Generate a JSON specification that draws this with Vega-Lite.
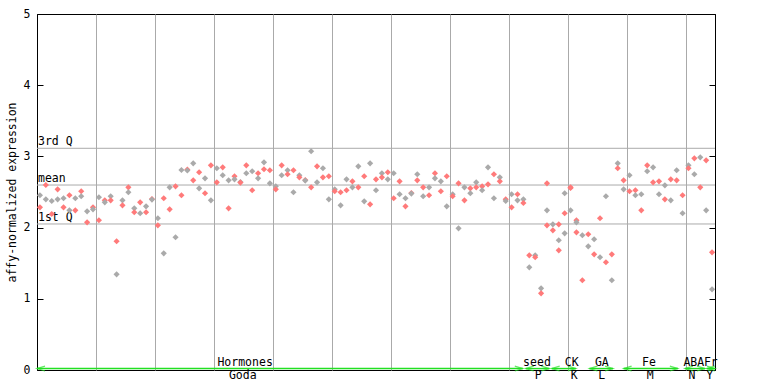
{
  "$schema": "https://vega.github.io/schema/vega-lite/v6.json",
  "width": 678,
  "height": 356,
  "autosize": {"type": "none"},
  "padding": {"left": 37, "top": 14, "right": 53, "bottom": 14},
  "background": "white",
  "config": {
    "view": {"stroke": "black", "strokeWidth": 1},
    "axis": {"labelFont": "DejaVu Sans Mono", "labelFontSize": 11.5, "labelColor": "black", "titleFont": "DejaVu Sans Mono", "titleFontSize": 11.5, "titleFontWeight": "normal", "titleColor": "black", "tickColor": "black", "domainColor": "black", "gridColor": "#aaaaaa", "gridOpacity": 1},
    "text": {"font": "DejaVu Sans Mono", "fontSize": 11.5, "color": "black"}
  },
  "datasets": {
    "pts": [
      {"s":0,"v":2.454,"c":"g"},{"s":0,"v":2.285,"c":"r"},
      {"s":1,"v":2.598,"c":"r"},{"s":1,"v":2.397,"c":"g"},
      {"s":2,"v":2.374,"c":"g"},{"s":2,"v":2.191,"c":"r"},
      {"s":3,"v":2.538,"c":"r"},{"s":3,"v":2.397,"c":"g"},
      {"s":4,"v":2.412,"c":"g"},{"s":4,"v":2.285,"c":"r"},
      {"s":5,"v":2.454,"c":"r"},{"s":5,"v":2.243,"c":"g"},
      {"s":6,"v":2.412,"c":"g"},{"s":6,"v":2.243,"c":"r"},
      {"s":7,"v":2.510,"c":"r"},{"s":7,"v":2.440,"c":"g"},
      {"s":8,"v":2.229,"c":"g"},{"s":8,"v":2.074,"c":"r"},
      {"s":9,"v":2.285,"c":"r"},{"s":9,"v":2.257,"c":"g"},
      {"s":10,"v":2.426,"c":"g"},{"s":10,"v":2.103,"c":"r"},
      {"s":11,"v":2.383,"c":"r"},{"s":11,"v":2.355,"c":"g"},
      {"s":12,"v":2.440,"c":"g"},{"s":12,"v":2.383,"c":"r"},
      {"s":13,"v":1.808,"c":"r"},{"s":13,"v":1.344,"c":"g"},
      {"s":14,"v":2.383,"c":"g"},{"s":14,"v":2.313,"c":"r"},
      {"s":15,"v":2.566,"c":"r"},{"s":15,"v":2.496,"c":"g"},
      {"s":16,"v":2.271,"c":"g"},{"s":16,"v":2.215,"c":"r"},
      {"s":17,"v":2.355,"c":"r"},{"s":17,"v":2.201,"c":"g"},
      {"s":18,"v":2.299,"c":"g"},{"s":18,"v":2.215,"c":"r"},
      {"s":19,"v":2.402,"c":"r"},{"s":19,"v":2.393,"c":"g"},
      {"s":20,"v":2.131,"c":"g"},{"s":20,"v":2.032,"c":"r"},
      {"s":21,"v":2.412,"c":"r"},{"s":21,"v":1.639,"c":"g"},
      {"s":22,"v":2.566,"c":"g"},{"s":22,"v":2.257,"c":"r"},
      {"s":23,"v":2.580,"c":"r"},{"s":23,"v":1.864,"c":"g"},
      {"s":24,"v":2.809,"c":"g"},{"s":24,"v":2.454,"c":"r"},
      {"s":25,"v":2.816,"c":"r"},{"s":25,"v":2.802,"c":"g"},
      {"s":26,"v":2.903,"c":"g"},{"s":26,"v":2.664,"c":"r"},
      {"s":27,"v":2.777,"c":"r"},{"s":27,"v":2.552,"c":"g"},
      {"s":28,"v":2.692,"c":"g"},{"s":28,"v":2.482,"c":"r"},
      {"s":29,"v":2.875,"c":"r"},{"s":29,"v":2.383,"c":"g"},
      {"s":30,"v":2.833,"c":"g"},{"s":30,"v":2.636,"c":"r"},
      {"s":31,"v":2.847,"c":"r"},{"s":31,"v":2.735,"c":"g"},
      {"s":32,"v":2.664,"c":"g"},{"s":32,"v":2.271,"c":"r"},
      {"s":33,"v":2.721,"c":"r"},{"s":33,"v":2.678,"c":"g"},
      {"s":34,"v":2.640,"c":"g"},{"s":34,"v":2.632,"c":"r"},
      {"s":35,"v":2.875,"c":"r"},{"s":35,"v":2.763,"c":"g"},
      {"s":36,"v":2.791,"c":"g"},{"s":36,"v":2.524,"c":"r"},
      {"s":37,"v":2.763,"c":"r"},{"s":37,"v":2.692,"c":"g"},
      {"s":38,"v":2.917,"c":"g"},{"s":38,"v":2.819,"c":"r"},
      {"s":39,"v":2.805,"c":"r"},{"s":39,"v":2.622,"c":"g"},
      {"s":40,"v":2.580,"c":"g"},{"s":40,"v":2.538,"c":"r"},
      {"s":41,"v":2.875,"c":"r"},{"s":41,"v":2.735,"c":"g"},
      {"s":42,"v":2.805,"c":"g"},{"s":42,"v":2.749,"c":"r"},
      {"s":43,"v":2.805,"c":"r"},{"s":43,"v":2.496,"c":"g"},
      {"s":44,"v":2.735,"c":"g"},{"s":44,"v":2.706,"c":"r"},
      {"s":45,"v":2.669,"c":"r"},{"s":45,"v":2.660,"c":"g"},
      {"s":46,"v":3.072,"c":"g"},{"s":46,"v":2.566,"c":"r"},
      {"s":47,"v":2.861,"c":"r"},{"s":47,"v":2.636,"c":"g"},
      {"s":48,"v":2.833,"c":"g"},{"s":48,"v":2.706,"c":"r"},
      {"s":49,"v":2.721,"c":"r"},{"s":49,"v":2.397,"c":"g"},
      {"s":50,"v":2.538,"c":"g"},{"s":50,"v":2.510,"c":"r"},
      {"s":51,"v":2.496,"c":"r"},{"s":51,"v":2.313,"c":"g"},
      {"s":52,"v":2.678,"c":"g"},{"s":52,"v":2.524,"c":"r"},
      {"s":53,"v":2.650,"c":"r"},{"s":53,"v":2.566,"c":"g"},
      {"s":54,"v":2.861,"c":"g"},{"s":54,"v":2.566,"c":"r"},
      {"s":55,"v":2.721,"c":"r"},{"s":55,"v":2.369,"c":"g"},
      {"s":56,"v":2.903,"c":"g"},{"s":56,"v":2.327,"c":"r"},
      {"s":57,"v":2.678,"c":"r"},{"s":57,"v":2.524,"c":"g"},
      {"s":58,"v":2.763,"c":"g"},{"s":58,"v":2.706,"c":"r"},
      {"s":59,"v":2.777,"c":"r"},{"s":59,"v":2.678,"c":"g"},
      {"s":60,"v":2.763,"c":"g"},{"s":60,"v":2.412,"c":"r"},
      {"s":61,"v":2.650,"c":"r"},{"s":61,"v":2.468,"c":"g"},
      {"s":62,"v":2.412,"c":"g"},{"s":62,"v":2.299,"c":"r"},
      {"s":63,"v":2.486,"c":"r"},{"s":63,"v":2.478,"c":"g"},
      {"s":64,"v":2.749,"c":"g"},{"s":64,"v":2.664,"c":"r"},
      {"s":65,"v":2.566,"c":"r"},{"s":65,"v":2.440,"c":"g"},
      {"s":66,"v":2.566,"c":"g"},{"s":66,"v":2.454,"c":"r"},
      {"s":67,"v":2.763,"c":"r"},{"s":67,"v":2.692,"c":"g"},
      {"s":68,"v":2.650,"c":"g"},{"s":68,"v":2.510,"c":"r"},
      {"s":69,"v":2.721,"c":"r"},{"s":69,"v":2.299,"c":"g"},
      {"s":70,"v":2.468,"c":"g"},{"s":70,"v":2.440,"c":"r"},
      {"s":71,"v":2.622,"c":"r"},{"s":71,"v":1.990,"c":"g"},
      {"s":72,"v":2.566,"c":"g"},{"s":72,"v":2.383,"c":"r"},
      {"s":73,"v":2.552,"c":"r"},{"s":73,"v":2.482,"c":"g"},
      {"s":74,"v":2.636,"c":"g"},{"s":74,"v":2.566,"c":"r"},
      {"s":75,"v":2.580,"c":"r"},{"s":75,"v":2.524,"c":"g"},
      {"s":76,"v":2.847,"c":"g"},{"s":76,"v":2.608,"c":"r"},
      {"s":77,"v":2.749,"c":"r"},{"s":77,"v":2.412,"c":"g"},
      {"s":78,"v":2.706,"c":"g"},{"s":78,"v":2.650,"c":"r"},
      {"s":79,"v":2.397,"c":"r"},{"s":79,"v":2.374,"c":"g"},
      {"s":80,"v":2.468,"c":"g"},{"s":80,"v":2.285,"c":"r"},
      {"s":81,"v":2.468,"c":"r"},{"s":81,"v":2.383,"c":"g"},
      {"s":82,"v":2.397,"c":"g"},{"s":82,"v":2.346,"c":"r"},
      {"s":83,"v":1.611,"c":"r"},{"s":83,"v":1.442,"c":"g"},
      {"s":84,"v":1.611,"c":"g"},{"s":84,"v":1.583,"c":"r"},
      {"s":85,"v":1.147,"c":"g"},{"s":85,"v":1.077,"c":"r"},
      {"s":86,"v":2.622,"c":"r"},{"s":86,"v":2.243,"c":"g"},{"s":86,"v":2.032,"c":"r"},
      {"s":87,"v":2.046,"c":"g"},{"s":87,"v":1.962,"c":"r"},
      {"s":88,"v":2.046,"c":"r"},{"s":88,"v":1.822,"c":"g"},{"s":88,"v":1.681,"c":"r"},
      {"s":89,"v":2.482,"c":"g"},{"s":89,"v":2.201,"c":"r"},{"s":89,"v":1.920,"c":"g"},
      {"s":90,"v":2.565,"c":"r"},{"s":90,"v":2.556,"c":"r"},{"s":90,"v":2.243,"c":"g"},
      {"s":91,"v":2.103,"c":"r"},{"s":91,"v":2.074,"c":"g"},{"s":91,"v":1.934,"c":"r"},
      {"s":92,"v":1.892,"c":"g"},{"s":92,"v":1.260,"c":"r"},
      {"s":93,"v":1.906,"c":"r"},{"s":93,"v":1.737,"c":"g"},
      {"s":94,"v":1.836,"c":"g"},{"s":94,"v":1.625,"c":"r"},
      {"s":95,"v":2.131,"c":"r"},{"s":95,"v":1.583,"c":"g"},
      {"s":96,"v":2.440,"c":"g"},{"s":96,"v":1.513,"c":"r"},
      {"s":97,"v":1.625,"c":"r"},{"s":97,"v":1.260,"c":"g"},
      {"s":98,"v":2.903,"c":"g"},{"s":98,"v":2.833,"c":"r"},
      {"s":99,"v":2.664,"c":"r"},{"s":99,"v":2.538,"c":"g"},
      {"s":100,"v":2.735,"c":"g"},{"s":100,"v":2.510,"c":"r"},
      {"s":101,"v":2.524,"c":"r"},{"s":101,"v":2.454,"c":"g"},
      {"s":102,"v":2.468,"c":"g"},{"s":102,"v":2.243,"c":"r"},
      {"s":103,"v":2.875,"c":"r"},{"s":103,"v":2.791,"c":"g"},
      {"s":104,"v":2.847,"c":"g"},{"s":104,"v":2.636,"c":"r"},
      {"s":105,"v":2.650,"c":"r"},{"s":105,"v":2.468,"c":"g"},
      {"s":106,"v":2.594,"c":"g"},{"s":106,"v":2.397,"c":"r"},
      {"s":107,"v":2.678,"c":"r"},{"s":107,"v":2.383,"c":"g"},
      {"s":108,"v":2.805,"c":"g"},{"s":108,"v":2.664,"c":"r"},
      {"s":109,"v":2.454,"c":"r"},{"s":109,"v":2.201,"c":"g"},
      {"s":110,"v":2.875,"c":"g"},{"s":110,"v":2.833,"c":"r"},
      {"s":111,"v":2.973,"c":"r"},{"s":111,"v":2.749,"c":"g"},
      {"s":112,"v":2.987,"c":"g"},{"s":112,"v":2.566,"c":"r"},
      {"s":113,"v":2.945,"c":"r"},{"s":113,"v":2.243,"c":"g"},
      {"s":114,"v":1.653,"c":"r"},{"s":114,"v":1.133,"c":"g"}
    ],
    "ref": [
      {"lab": "3rd Q", "v": 3.114},
      {"lab": "mean", "v": 2.598},
      {"lab": "1st Q", "v": 2.051}
    ],
    "grp": [
      {"top": "Hormones", "bot": "Goda", "a": -0.5, "b": 81.9, "tx": 34.8, "bx": 34.4},
      {"top": "seed", "bot": "P", "a": 82.4, "b": 86.4, "tx": 84.3, "bx": 84.5},
      {"top": "CK", "bot": "K", "a": 86.8, "b": 90.9, "tx": 90.2, "bx": 90.6},
      {"top": "GA", "bot": "L", "a": 93.2, "b": 97.2, "tx": 95.3, "bx": 95.3},
      {"top": "Fe", "bot": "M", "a": 99.0, "b": 108.2, "tx": 103.3, "bx": 103.5},
      {"top": "ABA", "bot": "N", "a": 109.4, "b": 112.8, "tx": 110.9, "bx": 110.6},
      {"top": "Fr", "bot": "Y", "a": 113.1, "b": 114.5, "tx": 113.8, "bx": 113.6}
    ]
  },
  "layer": [
    {
      "data": {"name": "ref"},
      "mark": {"type": "rule", "color": "#aaaaaa", "strokeWidth": 1},
      "encoding": {
        "y": {"field": "v", "type": "quantitative", "scale": {"domain": [0, 5], "nice": false, "zero": true},
          "axis": {"orient": "left", "values": [0, 1, 2, 3, 4, 5], "title": "affy-normalized expression", "grid": false, "tickSize": -6, "labelPadding": 13, "titlePadding": 6, "domain": true}}
      }
    },
    {
      "data": {"name": "ref"},
      "mark": {"type": "text", "align": "left", "baseline": "bottom", "dx": 1, "dy": -1},
      "encoding": {
        "x": {"datum": -0.5, "type": "quantitative"},
        "y": {"field": "v", "type": "quantitative",
          "axis": {"orient": "right", "values": [0, 1, 2, 3, 4, 5], "labels": false, "title": null, "grid": false, "tickSize": -6, "domain": true}},
        "text": {"field": "lab"}
      }
    },
    {
      "data": {"name": "grp"},
      "mark": {"type": "rule", "color": "#22e022", "strokeWidth": 1.5},
      "encoding": {
        "x": {"field": "a", "type": "quantitative"},
        "x2": {"field": "b"},
        "y": {"datum": 0.02, "type": "quantitative", "axis": null}
      }
    },
    {
      "data": {"name": "grp"},
      "mark": {"type": "point", "shape": "M4,-1.2L0,0L4,1.2", "filled": false, "color": "#22e022", "strokeWidth": 1.2, "size": 16},
      "encoding": {
        "x": {"field": "a", "type": "quantitative"},
        "y": {"datum": 0.02, "type": "quantitative", "axis": null}
      }
    },
    {
      "data": {"name": "grp"},
      "mark": {"type": "point", "shape": "M-4,-1.2L0,0L-4,1.2", "filled": false, "color": "#22e022", "strokeWidth": 1.2, "size": 16},
      "encoding": {
        "x": {"field": "b", "type": "quantitative"},
        "y": {"datum": 0.02, "type": "quantitative", "axis": null}
      }
    },
    {
      "data": {"name": "grp"},
      "mark": {"type": "text", "align": "center", "baseline": "middle"},
      "encoding": {
        "x": {"field": "tx", "type": "quantitative"},
        "y": {"datum": 0.1, "type": "quantitative", "axis": null},
        "text": {"field": "top"}
      }
    },
    {
      "data": {"name": "grp"},
      "mark": {"type": "text", "align": "center", "baseline": "middle"},
      "encoding": {
        "x": {"field": "bx", "type": "quantitative"},
        "y": {"datum": -0.085, "type": "quantitative", "axis": null},
        "text": {"field": "bot"}
      }
    },
    {
      "data": {"name": "pts"},
      "mark": {"type": "point", "shape": "diamond", "filled": true, "size": 38, "opacity": 1},
      "encoding": {
        "x": {"field": "s", "type": "quantitative", "scale": {"domain": [-0.5, 114.5], "nice": false, "zero": false},
          "axis": {"grid": true, "values": [9.5, 19.5, 29.5, 39.5, 49.5, 59.5, 69.5, 79.5, 89.5, 99.5, 109.5], "labels": false, "ticks": false, "domain": false, "title": null}},
        "y": {"field": "v", "type": "quantitative", "axis": null},
        "color": {"field": "c", "type": "nominal", "scale": {"domain": ["g", "r"], "range": ["#aaaaaa", "#ff7a7a"]}, "legend": null}
      }
    }
  ],
  "resolve": {"axis": {"y": "independent"}}
}
